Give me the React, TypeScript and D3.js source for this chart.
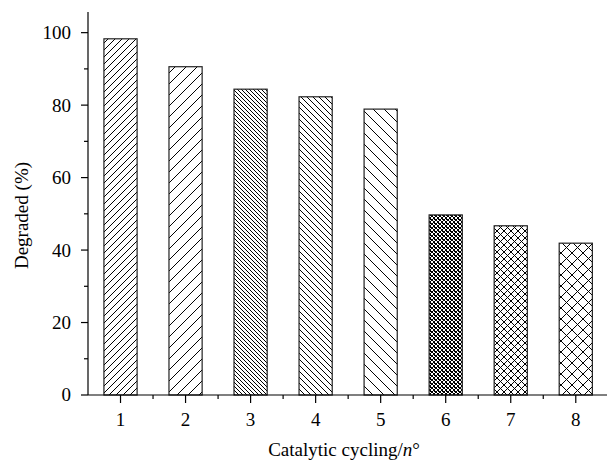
import React from "react";
import * as d3 from "d3";

const categories = [1, 2, 3, 4, 5, 6, 7, 8];
const degraded = [98.3, 90.6, 84.4, 82.3, 78.9, 49.7, 46.7, 41.9];
const yTicks = [0, 20, 40, 60, 80, 100];
const yMinorTicks = [10, 30, 50, 70, 90];
const xMinorTicks = [1.5, 2.5, 3.5, 4.5, 5.5, 6.5, 7.5];
// pattern kinds per bar
const patternKinds = ["fwd", "fwd", "back", "back", "back", "cross", "cross", "cross"];
const patternSpacing = [7, 11, 4, 6, 11, 4, 7, 11];

const W = 610;
const H = 461;
const M = { left: 88, right: 3, top: 12, bottom: 66 };

function Pattern({ id, kind, s }: { id: string; kind: string; s: number }) {
  const lines: string[] = [];
  if (kind === "fwd" || kind === "cross") {
    lines.push(`M0,${s} L${s},0 M-1,1 L1,-1 M${s - 1},${s + 1} L${s + 1},${s - 1}`);
  }
  if (kind === "back" || kind === "cross") {
    lines.push(`M0,0 L${s},${s} M-1,${s - 1} L1,${s + 1} M${s - 1},-1 L${s + 1},1`);
  }
  const sw = kind === "cross" && s < 5 ? 1.4 : 1.1;
  return (
    <pattern id={id} patternUnits="userSpaceOnUse" width={s} height={s}>
      <rect width={s} height={s} fill="#fff" />
      <path d={lines.join(" ")} stroke="#000" strokeWidth={sw} fill="none" shapeRendering="crispEdges" />
    </pattern>
  );
}

export default function App() {
  const x = d3.scaleLinear().domain([0.5, 8.48]).range([M.left, W - M.right]);
  const y = d3.scaleLinear().domain([0, 105.7]).range([H - M.bottom, M.top]);
  const step = x(2) - x(1);
  const bw = step * 0.51;
  const y0 = y(0);
  const font = "'Liberation Serif', 'Times New Roman', serif";

  return (
    <svg width={W} height={H} style={{ position: "absolute", left: 0, top: 0 }} fontFamily={font}>
      <defs>
        {categories.map((c, i) => (
          <Pattern key={c} id={`p${i}`} kind={patternKinds[i]} s={patternSpacing[i]} />
        ))}
      </defs>
      <rect width={W} height={H} fill="#fff" />
      {categories.map((c, i) => (
        <rect
          key={c}
          x={x(c) - bw / 2}
          y={y(degraded[i])}
          width={bw}
          height={y0 - y(degraded[i])}
          fill={`url(#p${i})`}
          stroke="#222"
          strokeWidth={1.2}
        />
      ))}
      {/* axes */}
      <line x1={M.left} x2={M.left} y1={M.top} y2={y0} stroke="#000" strokeWidth={1.2} />
      <line x1={M.left} x2={W - M.right} y1={y0} y2={y0} stroke="#000" strokeWidth={1.2} />
      {yTicks.map((t) => (
        <g key={t}>
          <line x1={M.left - 7} x2={M.left} y1={y(t)} y2={y(t)} stroke="#000" strokeWidth={1.2} />
          <text x={M.left - 17} y={y(t)} dy="0.34em" textAnchor="end" fontSize={19}>
            {t}
          </text>
        </g>
      ))}
      {yMinorTicks.map((t) => (
        <line key={t} x1={M.left - 4} x2={M.left} y1={y(t)} y2={y(t)} stroke="#000" strokeWidth={1.2} />
      ))}
      {categories.map((c) => (
        <g key={c}>
          <line x1={x(c)} x2={x(c)} y1={y0} y2={y0 + 8} stroke="#000" strokeWidth={1.2} />
          <text x={x(c)} y={y0 + 31} textAnchor="middle" fontSize={19}>
            {c}
          </text>
        </g>
      ))}
      {xMinorTicks.map((t) => (
        <line key={t} x1={x(t)} x2={x(t)} y1={y0} y2={y0 + 4} stroke="#000" strokeWidth={1.2} />
      ))}
      <text x={344} y={456} textAnchor="middle" fontSize={19}>
        Catalytic cycling/<tspan fontStyle="italic">n</tspan>°
      </text>
      <text transform={`translate(28,${(M.top + y0) / 2 + 12}) rotate(-90)`} textAnchor="middle" fontSize={19}>
        Degraded (%)
      </text>
    </svg>
  );
}
